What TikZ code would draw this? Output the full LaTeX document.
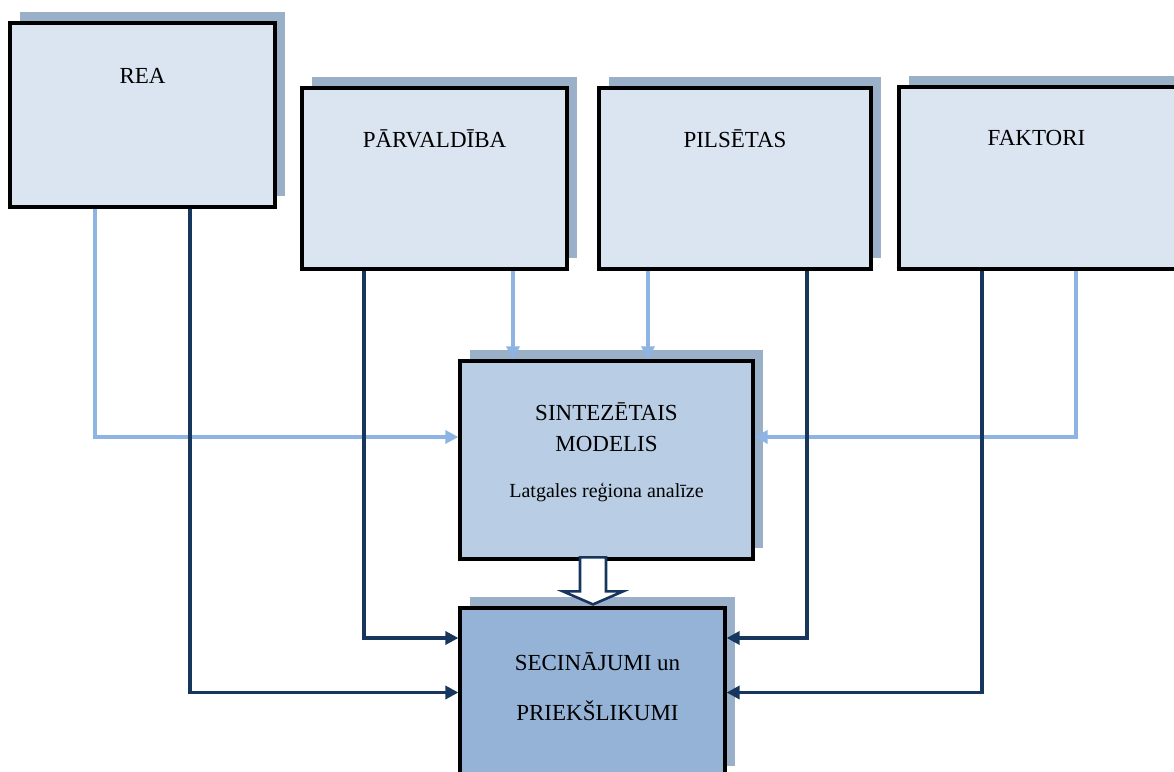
\documentclass[tikz,border=0pt]{standalone}
\usepackage{fontspec}
\setmainfont{Liberation Serif}
\usetikzlibrary{shadows,arrows.meta}

\definecolor{topfill}{HTML}{DBE5F1}
\definecolor{midfill}{HTML}{B9CDE5}
\definecolor{lowfill}{HTML}{95B3D7}
\definecolor{shade}{HTML}{9AAFC8}
\definecolor{lightln}{HTML}{8DB4E2}
\definecolor{darkln}{HTML}{17365D}

\tikzset{
    box/.style={draw=black, line width=3.2pt, inner sep=0pt,
        drop shadow={shadow xshift=10pt, shadow yshift=11pt, fill=shade, opacity=1}},
    lbl/.style={font=\fontsize{23}{28}\selectfont, inner sep=0pt},
    small/.style={font=\fontsize{20}{24}\selectfont, inner sep=0pt},
    light/.style={draw=lightln, line width=3.6pt, -{Triangle[length=13pt,width=13pt]}},
    dark/.style={draw=darkln, line width=3.8pt, -{Triangle[length=13pt,width=13pt]}},
    hollow/.style={draw=darkln, line width=2.6pt, fill=white, line join=miter}
}

\begin{document}
\begin{tikzpicture}[x=1pt, y=1pt]
    \useasboundingbox (0,0) rectangle (1174,771);

    % boxes
    \node[box, fill=topfill, minimum width=265pt, minimum height=184pt] (rea) at (142.5,656) {};
    \node[box, fill=topfill, minimum width=265pt, minimum height=181pt] (parv) at (434.5,592.5) {};
    \node[box, fill=topfill, minimum width=272pt, minimum height=181pt] (pils) at (735,592.5) {};
    \node[box, fill=topfill, minimum width=283pt, minimum height=182pt] (fakt) at (1040.5,593) {};
    \node[box, fill=midfill, minimum width=293pt, minimum height=198pt] (sint) at (606.5,311) {};
    \node[box, fill=lowfill, minimum width=265pt, minimum height=169pt] (sec) at (592.5,78.5) {};

    % texts
    \node[lbl] (reaT) at ([yshift=-55pt]rea.north) {REA};
    \node[lbl] (parvT) at ([yshift=-52pt]parv.north) {PĀRVALDĪBA};
    \node[lbl] (pilsT) at ([yshift=-52pt]pils.north) {PILSĒTAS};
    \node[lbl] (faktT) at ([xshift=-4pt,yshift=-53pt]fakt.north) {FAKTORI};
    \node[lbl] (sintA) at ([yshift=-52pt]sint.north) {SINTEZĒTAIS};
    \node[lbl] (sintB) at ([yshift=-85pt]sint.north) {MODELIS};
    \node[small] (sintC) at ([yshift=-133pt]sint.north) {Latgales reģiona analīze};
    \node[lbl] (secA) at ([xshift=5pt,yshift=-55pt]sec.north) {SECINĀJUMI un};
    \node[lbl] (secB) at ([xshift=5pt,yshift=-104pt]sec.north) {PRIEKŠLIKUMI};

    % light links to the model
    \draw[light] ([xshift=-47.5pt]rea.south) |- ([yshift=23pt]sint.west);
    \draw[light] ([xshift=78.5pt]parv.south) -- ([xshift=78.5pt]parv.south |- sint.north);
    \draw[light] ([xshift=-87pt]pils.south) -- ([xshift=-87pt]pils.south |- sint.north);
    \draw[light] ([xshift=35.5pt]fakt.south) |- ([yshift=23pt]sint.east);

    % dark links to the conclusions
    \draw[dark] ([xshift=47.5pt]rea.south) |- (sec.west);
    \draw[dark] ([xshift=-70.5pt]parv.south) |- ([yshift=54.5pt]sec.west);
    \draw[dark] ([xshift=72pt]pils.south) |- ([yshift=54.5pt]sec.east);
    \draw[dark] ([xshift=-58.5pt]fakt.south) |- (sec.east);

    % hollow arrow from model to conclusions
    \coordinate (tip) at ([xshift=0.5pt,yshift=2pt]sec.north);
    \draw[hollow] (tip) -- ++(30,13) -- ++(-17,0) -- ++(0,34) -- ++(-26,0)
        -- ++(0,-34) -- ++(-17,0) -- cycle;
\end{tikzpicture}
\end{document}
